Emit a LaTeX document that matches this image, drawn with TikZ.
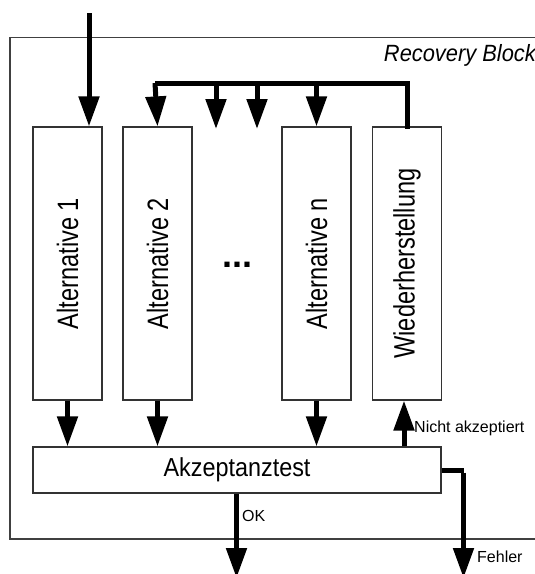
\documentclass[tikz,border=0pt]{standalone}
\usepackage{fontspec}
\setmainfont{Liberation Sans}
\usetikzlibrary{arrows.meta}
\begin{document}
\begin{tikzpicture}[x=1pt,y=-1pt,
  altbox/.style={draw=black!80, line width=1.2pt, minimum width=69pt, minimum height=273pt, inner sep=0pt, fill=white},
  flow/.style={line width=5pt, -{Triangle[width=20pt,length=30pt]}},
  busline/.style={line width=5pt},
  lbl/.style={font=\fontsize{16}{18}\selectfont, inner sep=0pt}]
\useasboundingbox (0,0) rectangle (535,574);
\clip (0,0) rectangle (535,574);
% frame
\draw[draw=black!75, line width=1.2pt] (10,37.5) rectangle (560,539);
\node[anchor=east, inner sep=0pt] (rb) at (536,55) {\scalebox{0.93}[1]{\fontsize{23.5}{26}\selectfont\itshape Recovery Block}};
% boxes
\node[altbox] (a1) at (67.5,263.5) {\rotatebox{90}{\scalebox{0.8}[1]{\fontsize{29.5}{30}\selectfont Alternative 1}}};
\node[altbox] (a2) at (157.5,263.5) {\rotatebox{90}{\scalebox{0.8}[1]{\fontsize{29.5}{30}\selectfont Alternative 2}}};
\node[altbox] (an) at (316.5,263.5) {\rotatebox{90}{\scalebox{0.8}[1]{\fontsize{29.5}{30}\selectfont Alternative n}}};
\node[altbox] (w) at (407,263.5) {\rotatebox{90}{\scalebox{0.8}[1]{\fontsize{29.5}{30}\selectfont Wiederherstellung}}};
\node[inner sep=0pt] (dots) at (237.5,265) {\fontsize{36}{38}\selectfont\bfseries ...};
\node[draw=black!80, line width=1.2pt, minimum width=408pt, minimum height=46pt, inner sep=0pt] (t) at (237,470) {\scalebox{0.9}[1]{\fontsize{26}{28}\selectfont Akzeptanztest}};
% coordinates
\coordinate (in) at (89,13);
\coordinate (busR) at (407,83);
\coordinate (busL) at (157.5,83);
\coordinate (b1) at (216,83);
\coordinate (b2) at (257,83);
\coordinate (b3) at (316.5,83);
\coordinate (e1) at (216,129);
\coordinate (e2) at (257,129);
\coordinate (okend) at (236.5,578);
\coordinate (fc) at (463.5,470);
\coordinate (fend) at (463.5,578);
% input
\draw[flow] (in) -- (in |- a1.north);
% bus
\draw[busline, line cap=rect] (w.north) -- (busR) -- (busL);
\draw[flow] ([xshift=-2.5pt]busL) -- (a2.north);
\draw[flow] (b1) -- (e1);
\draw[flow] (b2) -- (e2);
\draw[flow] (b3) -- (an.north);
% to test
\draw[flow] (a1.south) -- (a1.south |- t.north);
\draw[flow] (a2.south) -- (a2.south |- t.north);
\draw[flow] (an.south) -- (an.south |- t.north);
\draw[flow] (t.north -| 404,0) -- (w.south -| 404,0);
\node[lbl, anchor=west] (na) at (414,428.5) {Nicht akzeptiert};
% outputs
\draw[flow] (t.south -| okend) -- (okend);
\node[lbl, anchor=west] (ok) at (242,516) {OK};
\draw[busline] (t.east) -- (fc);
\draw[flow] ([yshift=-2.5pt]fc) -- (fend);
\node[lbl, anchor=west] (fe) at (477,556.5) {Fehler};
\end{tikzpicture}
\end{document}
